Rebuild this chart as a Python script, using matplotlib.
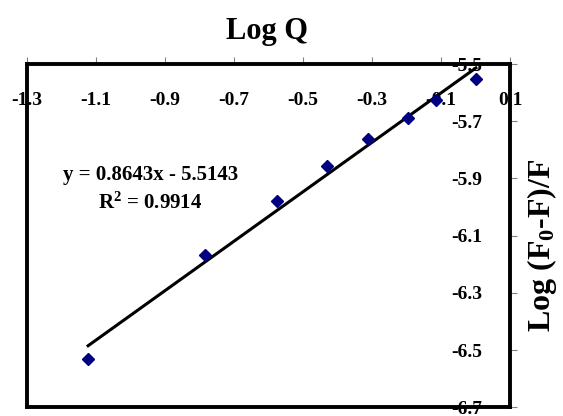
import numpy as np
import matplotlib.pyplot as plt

# Stern-Volmer style data: log quencher concentration vs log (F0-F)/F
log_q = [-1.123, -0.784, -0.575, -0.430, -0.312, -0.196, -0.114, 0.001]
log_ratio = [-6.530, -6.168, -5.980, -5.855, -5.761, -5.688, -5.625, -5.552]

# regression result shown on the chart
slope = 0.8643
intercept = -5.5143
r_squared = 0.9914

x_ticks = [-1.3, -1.1, -0.9, -0.7, -0.5, -0.3, -0.1, 0.1]
y_ticks = [-6.7, -6.5, -6.3, -6.1, -5.9, -5.7, -5.5]

plt.rcParams['font.family'] = ['Liberation Serif', 'DejaVu Serif']
plt.rcParams['font.weight'] = 'bold'
plt.rcParams['mathtext.fontset'] = 'custom'
plt.rcParams['mathtext.rm'] = 'Liberation Serif:bold'
plt.rcParams['mathtext.bf'] = 'Liberation Serif:bold'
plt.rcParams['mathtext.it'] = 'Liberation Serif:bold'

fig = plt.figure(figsize=(5.63, 4.16), dpi=100)
ax = fig.add_axes([0.048, 0.021, 0.858, 0.825])

ax.plot(log_q, log_ratio, linestyle='none', marker='D', markersize=6.5,
        color='#000080', zorder=3)

xs = np.array([min(log_q), max(log_q)])
ax.plot(xs, slope * xs + intercept, color='black', linewidth=2.2, zorder=2)

ax.set_xlim(-1.3, 0.1)
ax.set_ylim(-6.7, -5.5)
ax.set_xticks(x_ticks)
ax.set_yticks(y_ticks)
ax.set_xticklabels([f'{v:.1f}' for v in x_ticks])
ax.set_yticklabels([f'{v:.1f}' for v in y_ticks])

for side in ['left', 'right', 'top', 'bottom']:
    ax.spines[side].set_linewidth(2.8)
    ax.spines[side].set_color('black')

# axes cross at the top-right corner: labels sit inside the frame
ax.tick_params(axis='x', bottom=False, labelbottom=False, top=True, labeltop=True,
               direction='out', length=5, width=0.8, color='#808080',
               labelsize=14, pad=-25)
ax.tick_params(axis='y', left=False, labelleft=False, right=True, labelright=True,
               direction='out', length=5, width=0.8, color='#808080',
               labelsize=14, pad=-25)
for lab in ax.xaxis.get_majorticklabels():
    lab.set_va('top')
for lab in ax.yaxis.get_majorticklabels():
    lab.set_ha('right')

fig.text(0.475, 0.925, 'Log Q', ha='center', va='center', fontsize=22,
         fontweight='bold')
fig.text(0.962, 0.41, 'Log (F$_\\mathrm{0}$-F)/F', ha='center', va='center',
         rotation=90, fontsize=23, fontweight='bold')

ax.text(-0.942, -5.888, f'y = {slope}x - {abs(intercept)}', ha='center',
        va='center', fontsize=15, fontweight='bold')
ax.text(-0.942, -5.985, f'R$^\\mathrm{{2}}$ = {r_squared}', ha='center', va='center',
        fontsize=15, fontweight='bold')

fig.savefig('out.png', dpi=100)
